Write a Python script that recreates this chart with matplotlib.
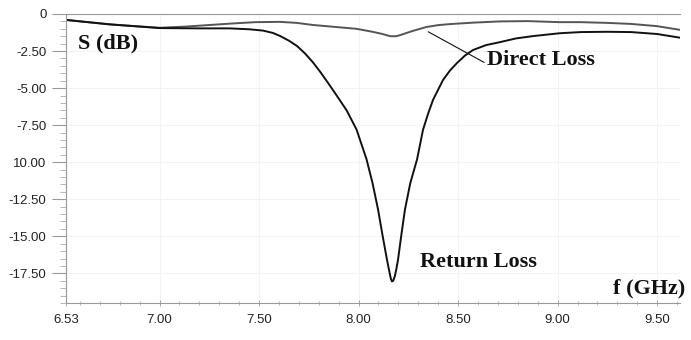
import matplotlib
matplotlib.use('Agg')
from matplotlib import pyplot as plt
from matplotlib.ticker import MultipleLocator

# frequency (GHz) and S-parameters (dB)
freq_rl = [6.53, 6.75, 7.0, 7.2, 7.35, 7.45, 7.52, 7.57, 7.605, 7.65, 7.69, 7.73, 7.77, 7.81,
           7.857, 7.9, 7.94, 7.99, 8.04, 8.07, 8.098, 8.12, 8.143, 8.155, 8.162, 8.168,
           8.174, 8.182, 8.19, 8.198, 8.215, 8.233, 8.26, 8.294, 8.324, 8.35, 8.374,
           8.4, 8.424, 8.46, 8.495, 8.535, 8.575, 8.64, 8.71, 8.79, 8.877, 9.01, 9.115,
           9.25, 9.37, 9.5, 9.615]
return_loss = [-0.4, -0.7, -0.95, -0.97, -0.97, -1.03, -1.12, -1.28, -1.48, -1.8, -2.15, -2.65, -3.25, -3.95,
               -4.85, -5.7, -6.5, -7.8, -9.8, -11.4, -13.2, -14.9, -16.6, -17.4, -17.85, -18.05,
               -18.0, -17.7, -17.2, -16.6, -14.9, -13.2, -11.4, -9.8, -7.8, -6.7, -5.8,
               -5.1, -4.46, -3.8, -3.3, -2.8, -2.43, -2.1, -1.9, -1.65, -1.49, -1.3, -1.22,
               -1.2, -1.22, -1.35, -1.6]

freq_dl = [6.53, 6.75, 7.0, 7.13, 7.265, 7.354, 7.48, 7.605, 7.69, 7.77, 7.88, 7.99,
           8.07, 8.12, 8.16, 8.19, 8.21, 8.27, 8.34, 8.4, 8.46, 8.58, 8.71, 8.85,
           9.01, 9.115, 9.25, 9.37, 9.5, 9.615]
direct_loss = [-0.4, -0.7, -0.93, -0.85, -0.73, -0.65, -0.55, -0.53, -0.6, -0.74, -0.87, -1.0,
               -1.2, -1.35, -1.5, -1.5, -1.42, -1.15, -0.88, -0.75, -0.68, -0.58, -0.5, -0.48,
               -0.55, -0.55, -0.6, -0.67, -0.82, -1.07]

xticks = [6.53, 7.0, 7.5, 8.0, 8.5, 9.0, 9.5]
xlabels = ['6.53', '7.00', '7.50', '8.00', '8.50', '9.00', '9.50']
yticks = [0, -2.5, -5.0, -7.5, -10.0, -12.5, -15.0, -17.5]
ylabels = ['0', '-2.50', '-5.00', '-7.50', '10.00', '-12.50', '-15.00', '-17.50']

fig = plt.figure(figsize=(6.91, 3.40), dpi=100)
ax = fig.add_axes([66 / 691, 37 / 340, 614 / 691, 289 / 340])

ax.plot(freq_dl, direct_loss, color='#555555', lw=1.4)
ax.plot(freq_rl, return_loss, color='#111111', lw=1.4)

ax.set_xlim(6.53, 9.615)
ax.set_ylim(-19.5, 0)

ax.set_xticks(xticks)
ax.set_xticklabels(xlabels)
ax.set_yticks(yticks)
ax.set_yticklabels(ylabels)
ax.xaxis.set_minor_locator(MultipleLocator(0.1))
ax.yaxis.set_minor_locator(MultipleLocator(0.5))

for lab in ax.get_xticklabels() + ax.get_yticklabels():
    lab.set_family('Liberation Sans')
    lab.set_fontsize(9.5)
    lab.set_color('#222222')

ax.tick_params(axis='y', which='major', length=10, width=0.8, color='#999999', pad=4)
ax.tick_params(axis='y', which='minor', length=4, width=0.6, color='#aaaaaa')
ax.tick_params(axis='x', which='major', length=4, width=0.6, color='#999999',
               direction='inout', pad=6)
ax.tick_params(axis='x', which='minor', length=3, width=0.5, color='#aaaaaa',
               direction='inout')

ax.spines['right'].set_visible(False)
for side in ['top', 'left', 'bottom']:
    ax.spines[side].set_color('#999999')
    ax.spines[side].set_linewidth(0.8)

ax.grid(True, which='major', color='#f3f3f3', lw=0.8)
ax.set_axisbelow(True)

lbl = dict(family='Liberation Serif', fontweight='bold', fontsize=16, color='#111111',
           va='center', ha='left')
ax.text(6.59, -1.96, 'S (dB)', **lbl)
ax.text(8.31, -16.75, 'Return Loss', **lbl)
ax.text(9.28, -18.5, 'f (GHz)', clip_on=False, **lbl)
ax.annotate('Direct Loss', xy=(8.35, -1.2), xytext=(8.645, -3.1),
            arrowprops=dict(arrowstyle='-', lw=0.8, color='#111111',
                            shrinkA=0, shrinkB=0, relpos=(0, 0.3)),
            **lbl)

fig.savefig('out.png', dpi=100)
